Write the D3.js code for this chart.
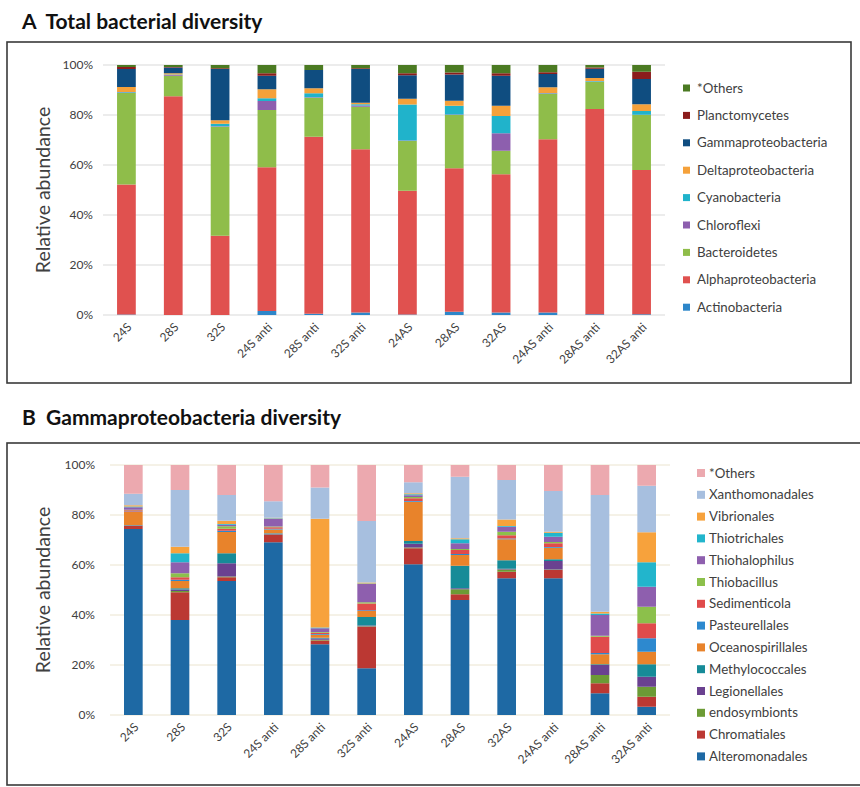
<!DOCTYPE html>
<html><head><meta charset="utf-8">
<script src="https://cdn.jsdelivr.net/npm/d3@7"></script>
<style>
html,body{margin:0;padding:0;background:#fff;}
svg{display:block;font-family:Lato,"Open Sans",sans-serif;}
</style></head>
<body><svg id="chart" width="860" height="787"></svg>
<script>
// ---------- DATA ----------
const categories = ["24S","28S","32S","24S anti","28S anti","32S anti","24AS","28AS","32AS","24AS anti","28AS anti","32AS anti"];
const yTickLabels = ["0%","20%","40%","60%","80%","100%"];
const yTickValues = [0,20,40,60,80,100];

// Panel A – Total bacterial diversity (bottom → top)
const seriesA = ["Actinobacteria","Alphaproteobacteria","Bacteroidetes","Chloroflexi","Cyanobacteria","Deltaproteobacteria","Gammaproteobacteria","Planctomycetes","*Others"];
const actinobacteria      = [0.2,0,0,1.6,0.5,1,0.2,1.3,1,1,0.3,0.3];
const alphaproteobacteria = [52,87.5,31.7,57.5,70.8,65.3,49.5,57.4,55.3,69.3,82.1,57.7];
const bacteroidetes       = [36.6,8.2,43.6,22.9,15.6,17,19.9,21.3,9.4,18.2,10.9,22];
const chloroflexi         = [0.2,0.3,0.2,3.6,0.2,0.5,0.2,0.2,7,0.2,0.1,0.1];
const cyanobacteria       = [0.2,0.2,1,1.1,1.6,0.5,14.4,3.5,6.9,0.1,0.2,1.5];
const deltaproteobacteria = [2,0.5,1.4,3.6,2,0.6,2.3,2,4.1,2.3,1.2,2.7];
const gammaproteobacteria = [7.2,2.3,20.5,5.4,7.3,13.5,9.4,10.5,12,5.3,3.7,10.1];
const planctomycetes      = [0.8,0.2,0.3,1,0,0.3,0.8,0.8,1,0.7,0.5,2.9];
const othersA             = [0.8,0.8,1.3,3.3,2,1.3,3.3,3,3.3,2.9,1,2.7];
const valuesA = [actinobacteria,alphaproteobacteria,bacteroidetes,chloroflexi,cyanobacteria,deltaproteobacteria,gammaproteobacteria,planctomycetes,othersA];
const colorsA = ["#2d86c9","#e0514f","#8fbd4a","#8d5fae","#20b3cb","#f5a13a","#0f4d80","#8b1c1c","#4b7a22"];

// Panel B – Gammaproteobacteria diversity (bottom → top)
const seriesB = ["Alteromonadales","Chromatiales","endosymbionts","Legionellales","Methylococcales","Oceanospirillales","Pasteurellales","Sedimenticola","Thiobacillus","Thiohalophilus","Thiotrichales","Vibrionales","Xanthomonadales","*Others"];
const alteromonadales   = [74.4,38,53.6,69.1,28.3,18.7,60.3,46,54.7,54.7,8.7,3.3];
const chromatiales      = [1.3,11.1,1.5,2.9,1.5,16.6,6.4,2.3,2.6,3.3,4.0,4.0];
const endosymbionts     = [0.1,0.5,0.3,0.2,0.3,0.2,0.3,2.0,0.9,0.2,3.3,4.0];
const legionellales     = [0.1,0.6,5.3,0.3,0.5,0.3,1.5,0.4,0.3,3.4,4.0,4.0];
const methylococcales   = [0.1,0.5,4.0,0.2,0.3,3.4,1.1,9.0,3.4,0.7,0.3,5.0];
const oceanospirillales = [5.2,2.9,8.5,1.5,1.2,2.4,15.7,4.3,8.4,4.6,4.0,5.0];
const pasteurellales    = [0.2,0.5,0.5,0.3,0.3,0.3,0.3,0.4,0.3,0.3,0.5,5.4];
const sedimenticola     = [0.5,1.0,0.8,0.6,0.5,2.7,1.1,1.6,1.3,1.5,6.5,6.0];
const thiobacillus      = [0.2,1.6,1.0,0.3,0.3,0.5,0.5,0.4,1.4,0.5,0.4,6.6];
const thiohalophilus    = [1.0,4.4,0.6,3.1,1.5,7.3,0.7,2.3,2.0,2.1,8.3,8.0];
const thiotrichales     = [0.3,3.6,0.3,0.2,0.3,0.2,0.4,1.6,0.3,1.6,0.6,9.8];
const vibrionales       = [0.5,2.6,1.3,0.2,43.5,0.4,0.4,0.4,2.6,0.4,0.7,12.0];
const xanthomonadales   = [4.6,22.7,10.3,6.6,12.5,24.6,4.4,24.6,15.8,16.3,46.7,18.6];
const othersB           = [11.5,10,12.0,14.5,9.0,22.4,6.9,4.7,6,10.4,12,8.3];
const valuesB = [alteromonadales,chromatiales,endosymbionts,legionellales,methylococcales,oceanospirillales,pasteurellales,sedimenticola,thiobacillus,thiohalophilus,thiotrichales,vibrionales,xanthomonadales,othersB];
const colorsB = ["#1e69a4","#bb3833","#6c9b35","#6a4190","#168b98","#e8832b","#2d89cf","#e04b4b","#8cc04b","#8e5fae","#22b5cc","#f7a23c","#a7bfdf","#eca9af"];

// ---------- DRAW ----------
const svg = d3.select("#chart");
const txt = "#404040";

function panel(o){
  const g = svg.append("g");
  // frame
  g.append("rect").attr("x",o.box[0]).attr("y",o.box[1]).attr("width",o.box[2]).attr("height",o.box[3])
    .attr("fill","none").attr("stroke","#3a3a3a").attr("stroke-width",1.6);
  g.append("text").attr("x",22).attr("y",o.titleY).attr("font-weight","bold").attr("font-size",21)
    .attr("fill","#111").attr("xml:space","preserve").text(o.title);

  const x = d3.scaleBand().domain(categories).range([o.x0,o.x1]).paddingInner(0.6).paddingOuter(0.3);
  const y = d3.scaleLinear().domain([0,100]).range([o.y1,o.y0]);

  // gridlines
  g.append("g").selectAll("line").data(yTickValues).join("line")
    .attr("x1",o.x0).attr("x2",o.x1).attr("y1",d=>y(d)).attr("y2",d=>y(d))
    .attr("stroke",o.grid).attr("stroke-width",1);

  // y axis labels
  const yAxis = d3.axisLeft(y).tickValues(yTickValues).tickFormat((d,i)=>yTickLabels[i]).tickSize(0).tickPadding(0);
  const ya = g.append("g").attr("transform",`translate(${o.yLabelX},0)`).call(yAxis);
  ya.select(".domain").remove();
  ya.selectAll("text").attr("font-size",12).attr("fill",txt).attr("font-family","Lato,sans-serif");

  g.append("text").attr("transform",`translate(50,${(o.y0+o.y1)/2}) rotate(-90)`)
    .attr("text-anchor","middle").attr("font-size",19.5).attr("fill",txt).text("Relative abundance");

  // stacked bars
  const rows = categories.map((c,i)=>{const r={cat:c}; o.series.forEach((s,k)=>r[s]=o.values[k][i]); return r;});
  const stacked = d3.stack().keys(o.series)(rows);
  const color = d3.scaleOrdinal().domain(o.series).range(o.colors);
  g.append("g").selectAll("g").data(stacked).join("g").attr("fill",d=>color(d.key))
    .selectAll("rect").data(d=>d).join("rect")
    .attr("x",d=>x(d.data.cat)).attr("width",x.bandwidth())
    .attr("y",d=>y(d[1])).attr("height",d=>Math.max(0,y(d[0])-y(d[1])));

  // x axis labels
  const xAxis = d3.axisBottom(x).tickSize(0).tickPadding(0);
  const xa = g.append("g").attr("transform",`translate(0,${o.y1})`).call(xAxis);
  xa.select(".domain").remove();
  xa.selectAll("text").attr("font-size",12).attr("fill",txt).attr("font-family","Lato,sans-serif")
    .attr("text-anchor","end").attr("dy",0).attr("y",0)
    .attr("transform",`translate(6,${o.xLabOff}) rotate(-45)`);

  // legend (reverse order)
  const leg = o.series.slice().reverse();
  const lg = g.append("g");
  leg.forEach((s,i)=>{
    const cy = o.legY0 + i*o.legStep;
    lg.append("rect").attr("x",o.legX).attr("y",cy-o.mk/2).attr("width",o.mk).attr("height",o.mk).attr("fill",color(s));
    lg.append("text").attr("x",o.legX+o.mk+o.legGap).attr("y",cy).attr("dy","0.35em")
      .attr("font-size",o.legFs).attr("fill",txt).text(s);
  });
}

panel({title:"A  Total bacterial diversity", titleY:29, box:[7,42,844,341],
  x0:103,x1:665,y0:65,y1:315,yLabelX:93,grid:"#d9d9d9",xLabOff:13,
  series:seriesA, values:valuesA, colors:colorsA,
  legX:683, legY0:88, legStep:27.4, mk:7, legGap:7, legFs:13.3});

panel({title:"B  Gammaproteobacteria diversity", titleY:425, box:[7,443,870,342],
  x0:110,x1:670,y0:465,y1:715,yLabelX:95,grid:"#ebe4cf",xLabOff:13,
  series:seriesB, values:valuesB, colors:colorsB,
  legX:697, legY0:473, legStep:21.8, mk:8, legGap:4, legFs:13.3});
</script></body></html>
